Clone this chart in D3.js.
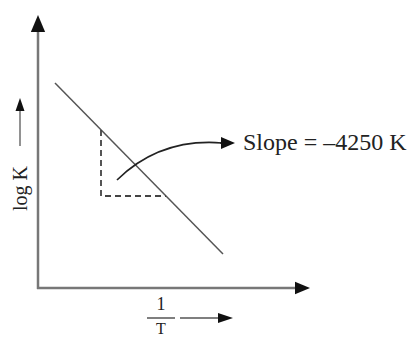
<!DOCTYPE html>
<html>
<head>
<meta charset="utf-8">
<script src="https://cdn.jsdelivr.net/npm/d3@7"></script>
<style>
  body { margin: 0; background: #fff; }
  text { font-family: "Liberation Serif", "Times New Roman", serif; fill: #222; }
</style>
</head>
<body>
<div id="vis"></div>
<script>
// data, in plot units (1 unit = 10 px)
var lineData = [{x: 1.7, y: 20.5}, {x: 18.5, y: 3.4}];
var triangle = [{x: 6.3, y: 15.8}, {x: 6.3, y: 9.2}, {x: 12.8, y: 9.2}];
var curveData = [{x: 7.9, y: 10.8}, {x: 12.2, y: 15.0}, {x: 18.4, y: 14.5}];
var slopeLabel = "Slope = \u20134250 K";
var xLabel = ["1", "T"];
var yLabel = "log K";

var width = 413, height = 339;

var svg = d3.select("#vis").append("svg")
    .attr("width", width)
    .attr("height", height);

// scales
var x = d3.scaleLinear().domain([0, 27.2]).range([38, 310]);
var y = d3.scaleLinear().domain([0, 27.3]).range([288, 15]);

// line + filled head
function arrow(x1, y1, x2, y2, size, w, color) {
  var ang = Math.atan2(y2 - y1, x2 - x1);
  var bx = x2 - size * Math.cos(ang), by = y2 - size * Math.sin(ang);
  svg.append("line")
      .attr("x1", x1).attr("y1", y1).attr("x2", bx).attr("y2", by)
      .attr("stroke", color).attr("stroke-width", w);
  var h = size * 0.42;
  var px = -Math.sin(ang) * h, py = Math.cos(ang) * h;
  svg.append("path")
      .attr("d", "M" + x2 + "," + y2 + "L" + (bx + px) + "," + (by + py) + "L" + (bx - px) + "," + (by - py) + "Z")
      .attr("fill", "#111");
}
// axes
arrow(x(0), y(0) + 1, x(0), y(27.3), 17, 2.5, "#777");
arrow(x(0) - 1, y(0), x(27.2), y(0), 15, 2.5, "#777");

// the line
var line = d3.line().x(function(d) { return x(d.x); }).y(function(d) { return y(d.y); });
svg.append("path")
    .datum(lineData)
    .attr("d", line)
    .attr("fill", "none")
    .attr("stroke", "#555")
    .attr("stroke-width", 1.5);

// dashed triangle
svg.append("path")
    .datum(triangle)
    .attr("d", line)
    .attr("fill", "none")
    .attr("stroke", "#444")
    .attr("stroke-width", 1.8)
    .attr("stroke-dasharray", "6,4");

// curved arrow to label
var p = curveData.map(function(d) { return [x(d.x), y(d.y)]; });
svg.append("path")
    .attr("d", "M" + p[0] + "Q" + p[1] + " " + p[2])
    .attr("fill", "none")
    .attr("stroke", "#222")
    .attr("stroke-width", 1.7);
arrow(p[2][0] - 2, p[2][1], p[2][0] + 13, p[2][1], 14, 1.7, "#222");

svg.append("text")
    .attr("x", x(20.5))
    .attr("y", y(13.8))
    .attr("font-size", 24)
    .text(slopeLabel);

// y label
var yl = svg.append("g").attr("transform", "translate(27,211) rotate(-90)");
yl.append("text").attr("x", 0).attr("y", 0).attr("font-size", 20).text(yLabel);
svg.append("line")
    .attr("x1", 20).attr("y1", 146).attr("x2", 20).attr("y2", 110)
    .attr("stroke", "#777").attr("stroke-width", 1.6);
svg.append("path").attr("d", "M20,98L15.5,111L24.5,111Z").attr("fill", "#111");

// x label (fraction)
svg.append("text").attr("x", 161).attr("y", 310).attr("text-anchor", "middle")
    .attr("font-size", 18).text(xLabel[0]);
svg.append("line").attr("x1", 147).attr("x2", 175).attr("y1", 318).attr("y2", 318)
    .attr("stroke", "#555").attr("stroke-width", 1.5);
svg.append("text").attr("x", 161).attr("y", 334).attr("text-anchor", "middle")
    .attr("font-size", 16).text(xLabel[1]);
svg.append("line").attr("x1", 180).attr("x2", 219).attr("y1", 318).attr("y2", 318)
    .attr("stroke", "#555").attr("stroke-width", 1.5);
svg.append("path").attr("d", "M233,318L218,313L218,323Z").attr("fill", "#111");
</script>
</body>
</html>
